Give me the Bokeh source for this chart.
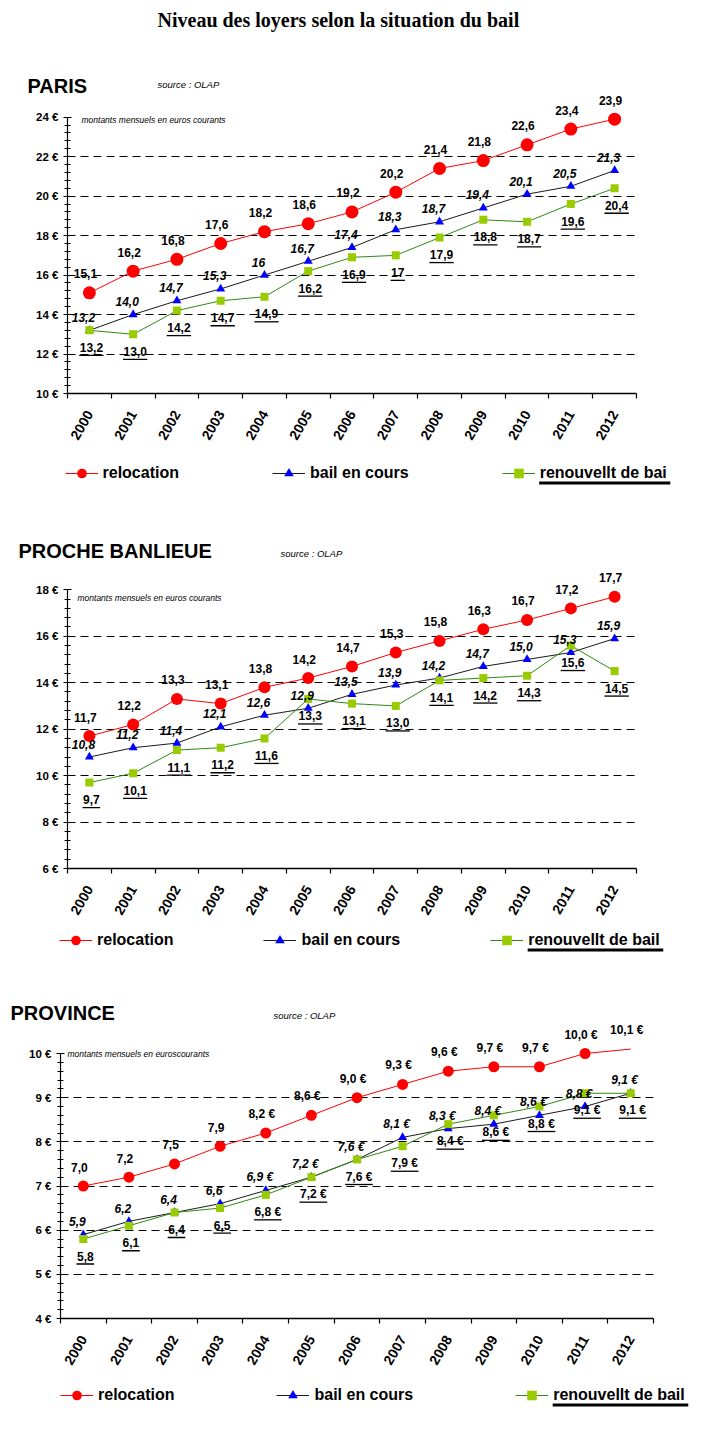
import math
from bokeh.plotting import figure
from bokeh.models import (ColumnDataSource, FixedTicker, LabelSet, Label, Legend, LegendItem,
                          CDSView, BooleanFilter, Range1d, Grid)
from bokeh.layouts import column
from bokeh.embed import file_html
from bokeh.resources import INLINE
from bokeh.core.properties import value

# ---------------- data ----------------
years = ["2000", "2001", "2002", "2003", "2004", "2005", "2006",
         "2007", "2008", "2009", "2010", "2011", "2012"]

paris_relocation = [15.1, 16.2, 16.8, 17.6, 18.2, 18.6, 19.2, 20.2, 21.4, 21.8, 22.6, 23.4, 23.9]
paris_bail = [13.2, 14.0, 14.7, 15.3, 16.0, 16.7, 17.4, 18.3, 18.7, 19.4, 20.1, 20.5, 21.3]
paris_renouv = [13.2, 13.0, 14.2, 14.7, 14.9, 16.2, 16.9, 17.0, 17.9, 18.8, 18.7, 19.6, 20.4]

banlieue_relocation = [11.7, 12.2, 13.3, 13.1, 13.8, 14.2, 14.7, 15.3, 15.8, 16.3, 16.7, 17.2, 17.7]
banlieue_bail = [10.8, 11.2, 11.4, 12.1, 12.6, 12.9, 13.5, 13.9, 14.2, 14.7, 15.0, 15.3, 15.9]
banlieue_renouv = [9.7, 10.1, 11.1, 11.2, 11.6, 13.3, 13.1, 13.0, 14.1, 14.2, 14.3, 15.6, 14.5]

province_relocation = [7.0, 7.2, 7.5, 7.9, 8.2, 8.6, 9.0, 9.3, 9.6, 9.7, 9.7, 10.0, 10.1]
province_bail = [5.9, 6.2, 6.4, 6.6, 6.9, 7.2, 7.6, 8.1, 8.3, 8.4, 8.6, 8.8, 9.1]
province_renouv = [5.8, 6.1, 6.4, 6.5, 6.8, 7.2, 7.6, 7.9, 8.4, 8.6, 8.8, 9.1, 9.1]

paris_label_overrides = {("bail", 4): "16", ("renouv", 7): "17"}

FONT = "Liberation Sans"
RED = "#FF0000"
BLUE = "#0000FF"
LINE_BAIL = "#1a1a1a"
GREEN_LINE = "#2E8B12"
GREEN_MK = "#99CC00"
W = 703
LH = 24  # legend row height
HAS_CROSS = "cross_bounds" in Grid.properties()

# approximate advance widths (em) of Liberation Sans Bold
BOLD_W = {"r": .389, "e": .556, "l": .278, "o": .611, "c": .556, "a": .556, "t": .333,
          "i": .278, "n": .611, "b": .611, "s": .556, "u": .611, "v": .556, "d": .611,
          " ": .278, ",": .278, "€": .556}


def fmt(v, euro=False):
    s = f"{v:.1f}".replace(".", ",")
    return s + (" €" if euro else "")


def text_w(s, size):
    return sum(BOLD_W.get(ch, 0.556) for ch in s) * size


def panel(cfg):
    n = len(years)
    top, bot = cfg["top"], cfg["bot"]
    H = bot - top
    xl, xr = cfg["xl"], cfg["xr"]           # page x of category edges -0.5 and n-0.5
    y0p, y1p = cfg["y0p"], cfg["y1p"]       # page y of y0 and y1
    y0, y1 = cfg["yr"]
    ppu_x = (xr - xl) / n
    ppu_y = (y0p - y1p) / (y1 - y0)
    x_start = -0.5 - xl / ppu_x
    y_start = y0 - (bot - y0p) / ppu_y
    p = figure(width=W, height=H, min_border=0,
               x_range=Range1d(x_start, x_start + W / ppu_x),
               y_range=Range1d(y_start, y_start + H / ppu_y),
               output_backend="svg", toolbar_location=None, tools="")
    p.outline_line_color = None
    p.background_fill_color = "white"
    p.border_fill_color = "white"
    p.xgrid.visible = False

    def px2x(px):
        return x_start + px / ppu_x

    def py2y(py):
        return y_start + (bot - py) / ppu_y

    # y axis
    major = cfg["major"]
    ymaj = list(range(y0, y1 + 1, major))
    nmin = int(round((y1 - y0) / cfg["minor"]))
    ymin = [round(y0 + k * cfg["minor"], 3) for k in range(nmin + 1)]
    ya = p.yaxis[0]
    ya.fixed_location = -0.5
    ya.bounds = (y0, y1)
    ya.ticker = FixedTicker(ticks=ymaj, minor_ticks=ymin)
    ya.major_label_overrides = {t: f"{t} €" for t in ymaj}
    ya.axis_line_color = "black"
    ya.axis_line_width = 1.2
    ya.major_tick_in = 4
    ya.major_tick_out = 4
    ya.minor_tick_in = 3
    ya.minor_tick_out = 3
    ya.major_tick_line_color = "black"
    ya.minor_tick_line_color = "black"
    ya.major_label_text_font = FONT
    ya.major_label_text_font_style = "bold"
    ya.major_label_text_font_size = "11.5px"
    ya.major_label_text_color = "black"
    ya.major_label_standoff = 5

    yg = p.ygrid[0]
    yg.ticker = FixedTicker(ticks=cfg["grid"])
    yg.grid_line_color = "black"
    yg.grid_line_dash = "8 5"
    yg.grid_line_width = 1
    if HAS_CROSS:
        yg.cross_bounds = (-0.5, n - 0.5)
    else:
        yg.visible = False
        gsrc = ColumnDataSource(dict(y=cfg["grid"]))
        p.segment(x0=-0.5, x1=n - 0.5, y0="y", y1="y", source=gsrc,
                  line_color="black", line_dash="8 5", line_width=1)

    # x axis
    xa = p.xaxis[0]
    xa.fixed_location = y0
    xa.bounds = (-0.5, n - 0.5)
    xa.ticker = FixedTicker(ticks=list(range(n)), minor_ticks=[i - 0.5 for i in range(n + 1)])
    xa.major_label_overrides = {i: y for i, y in enumerate(years)}
    xa.axis_line_color = "black"
    xa.axis_line_width = 1.5
    xa.major_tick_in = 0
    xa.major_tick_out = 0
    xa.minor_tick_in = 0
    xa.minor_tick_out = 5
    xa.minor_tick_line_color = "black"
    xa.minor_tick_line_width = 1.2
    xa.major_label_orientation = math.pi / 3
    xa.major_label_standoff = 13
    xa.major_label_text_font = FONT
    xa.major_label_text_font_style = "bold"
    xa.major_label_text_font_size = "14px"
    xa.major_label_text_color = "black"

    x = list(range(n))
    euro_from = cfg.get("euro_from", None)
    overrides = cfg.get("overrides", {})

    def labels_for(key, vals):
        out = []
        for i, v in enumerate(vals):
            if (key, i) in overrides:
                out.append(overrides[(key, i)])
            else:
                out.append(fmt(v, euro_from is not None and i >= euro_from))
        return out

    specs = [
        ("reloc", cfg["reloc"], dict(marker="circle", size=cfg["csize"], fill_color=RED),
         RED, -4, 19, "bold"),
        ("bail", cfg["bail"], dict(marker="triangle", size=9, fill_color=BLUE),
         LINE_BAIL, -6, 13, "bold italic"),
        ("renouv", cfg["renouv"], dict(marker="square", size=8, fill_color=GREEN_MK),
         GREEN_LINE, 2, -17, "bold"),
    ]
    rends = {}
    for key, vals, mk, lcol, dx, dy, fstyle in specs:
        labs = labels_for(key, vals)
        src = ColumnDataSource(dict(x=x, y=vals, label=labs))
        lr = p.line("x", "y", source=src, line_color=lcol, line_width=1)
        mask = [y0 <= v <= y1 for v in vals]
        sr = p.scatter("x", "y", source=src, view=CDSView(filter=BooleanFilter(mask)),
                       line_color=None, **mk)
        rends[key] = [lr, sr]
        ls = LabelSet(x="x", y="y", text="label", source=src, x_offset=dx, y_offset=dy,
                      text_align="center", text_baseline="middle",
                      text_font=value(FONT), text_font_style=fstyle,
                      text_font_size="12px", text_color="black")
        p.add_layout(ls)
        if key == "renouv":
            usrc = ColumnDataSource(dict(
                x=[i + dx / ppu_x for i in x],
                y=[v - (-dy + 8) / ppu_y for v in vals],
                w=[text_w(l, 12) + 1 for l in labs]))
            p.rect("x", "y", width="w", height=1.3, width_units="screen", height_units="screen",
                   source=usrc, fill_color="black", line_color=None)

    # texts (page coordinates -> screen units of the frame = whole figure)
    for txt, px, py, font, style, size in cfg["texts"]:
        p.add_layout(Label(x=px, y=bot - py, x_units="screen", y_units="screen",
                           text=txt, text_font=font, text_font_style=style,
                           text_font_size=size, text_color="black",
                           text_baseline="middle", text_align="left"))

    # legend
    items = [LegendItem(label=lab, renderers=rends[key])
             for key, lab in zip(["reloc", "bail", "renouv"], cfg["leg_labels"])]
    lx, lrow, sp = cfg["leg"]
    lg = Legend(items=items, location=(lx, bot - (lrow + LH / 2)), orientation="horizontal",
                padding=0, margin=0, spacing=sp,
                glyph_width=33, glyph_height=LH, label_height=LH, label_standoff=5,
                border_line_color=None, background_fill_alpha=0,
                label_text_font=FONT, label_text_font_style="bold",
                label_text_font_size="16px", label_text_color="black")
    p.add_layout(lg)
    # underline of the third legend label
    w0 = text_w(cfg["leg_labels"][0], 16)
    w1 = text_w(cfg["leg_labels"][1], 16)
    w2 = text_w(cfg["leg_labels"][2], 16)
    tx = lx + (33 + 5 + w0 + sp) + (33 + 5 + w1 + sp) + 38
    p.quad(left=[px2x(tx - 1)], right=[px2x(tx + w2 + 3)],
           top=[py2y(lrow + 8)], bottom=[py2y(lrow + 11)],
           fill_color="black", line_color=None)
    return p


paris = panel(dict(
    top=0, bot=500, xl=67, xr=636, y0p=393, y1p=116.7, yr=(10, 24), major=2, minor=0.4,
    grid=[12, 14, 16, 18, 20, 22], csize=13,
    reloc=paris_relocation, bail=paris_bail, renouv=paris_renouv,
    overrides=paris_label_overrides,
    texts=[("Niveau des loyers selon la situation du bail", 157, 19, "Liberation Serif", "bold", "20px"),
           ("PARIS", 27, 85, FONT, "bold", "20px"),
           ("source : OLAP", 157, 84, FONT, "italic", "9.5px"),
           ("montants mensuels en euros courants", 81, 119, FONT, "italic", "8.5px")],
    leg_labels=["relocation", "bail en cours", "renouvellt de bai"],
    leg=(64.5, 473, 93),
))

banlieue = panel(dict(
    top=500, bot=960, xl=67, xr=636, y0p=868, y1p=589.3, yr=(6, 18), major=2, minor=0.4,
    grid=[8, 10, 12, 14, 16], csize=12,
    reloc=banlieue_relocation, bail=banlieue_bail, renouv=banlieue_renouv,
    texts=[("PROCHE BANLIEUE", 18, 550.7, FONT, "bold", "20px"),
           ("source : OLAP", 280, 553, FONT, "italic", "9.5px"),
           ("montants mensuels en euros courants", 77, 597.7, FONT, "italic", "8.5px")],
    leg_labels=["relocation", "bail en cours", "renouvellt de bail"],
    leg=(59, 940, 90),
))

province = panel(dict(
    top=960, bot=1420, xl=60, xr=653, y0p=1318, y1p=1053, yr=(4, 10), major=1, minor=0.2,
    grid=[5, 6, 7, 8, 9], csize=11, euro_from=4,
    reloc=province_relocation, bail=province_bail, renouv=province_renouv,
    texts=[("PROVINCE", 10, 1012.7, FONT, "bold", "20px"),
           ("source : OLAP", 273, 1015, FONT, "italic", "9.5px"),
           ("montants mensuels en  euroscourants", 67, 1053.3, FONT, "italic", "8.5px")],
    leg_labels=["relocation", "bail en cours", "renouvellt de bail"],
    leg=(60, 1395, 102),
))

layout = column(paris, banlieue, province, spacing=0)
open("out.html", "w").write(file_html(layout, INLINE))
